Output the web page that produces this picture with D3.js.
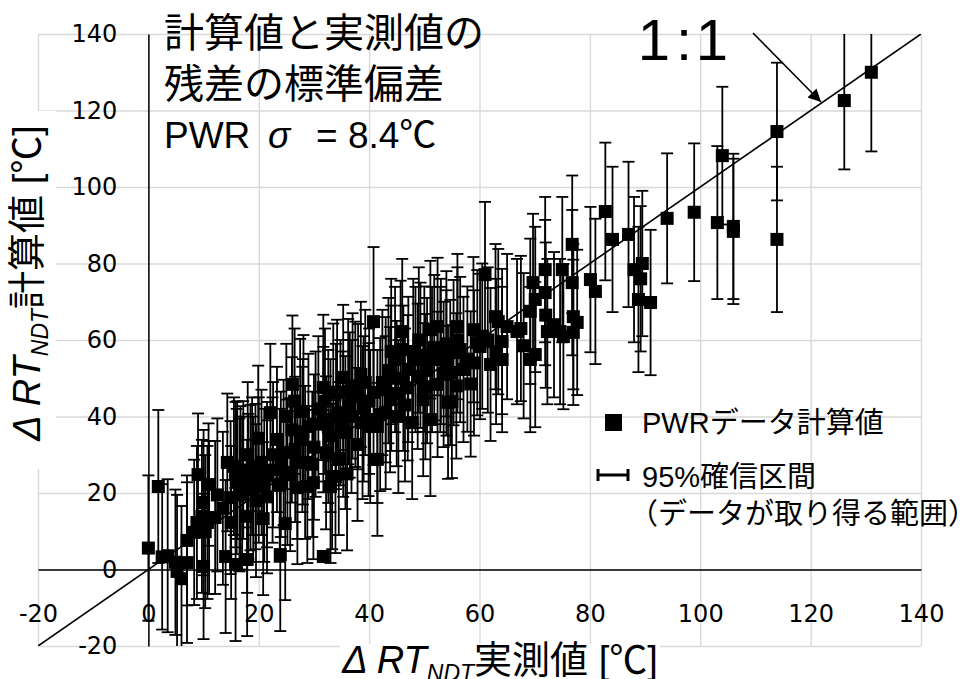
<!DOCTYPE html>
<html>
<head>
<meta charset="utf-8">
<script src="https://cdn.jsdelivr.net/npm/d3@7"></script>
<style>
  body { margin: 0; background: #fff; }
  svg { display: block; }
  .jp { font-family: "Liberation Sans", "Noto Sans CJK JP", sans-serif; fill: #000; }
  .tick text { font-family: "DejaVu Sans", sans-serif; font-size: 24px; fill: #000; }
</style>
</head>
<body>
<div class="chart"></div>
<script>
var width = 961,
    height = 679

// 実測値 (x), 計算値 (y), 95%確信区間の半幅
var measured = [0, 1.8, 2.5, 3.5, 4.9, 5.2, 6, 7, 7, 8.3, 8.8, 9, 10, 9.7, 10.9, 10, 10.7, 11, 12.1, 10.3,
  14, 14.3, 14.9, 15, 15.8, 15.8, 16.1, 16.7, 17.2, 17.9, 17.9, 18.1, 18.8, 19.4, 19.9, 20.8, 21.5, 21.5, 22.1, 22.6,
  23.3, 23.9, 24.5, 24.8, 25.2, 25.7, 26.1, 26.6, 27, 27.5, 27.9, 28.1, 28.4, 28.8, 29, 29.7, 29.9, 30.3,
  31.7, 31.7, 31.7, 32.6, 33, 33.3, 33.5, 33.9, 34.2, 35.3, 35.3, 35.7, 36.2, 37.5, 37.9, 38, 38.8, 39.3, 39.9, 40.2,
  40.8, 40.8, 41.5, 41.5, 42.4, 43, 43.8, 44.7, 45.3, 45.7, 46, 46.5, 47.1, 47.8, 48.4, 49.8, 50.2, 51.1, 51.1, 51.4,
  52.4, 52.4, 52.9, 54.3, 54.7, 55, 55.3, 56, 56.5, 57.1, 58.9, 59.6, 60.1,
  61, 62, 62.9, 63.4, 64.1, 64.1, 66.8, 69.2, 69.2, 69.7, 70.1, 70.1, 71.9, 71.9, 72.3, 74.6, 75, 75.2,
  76.8, 76.8, 77, 77, 77.7, 80.1, 81, 82.8, 84.1, 87, 88, 89.5, 89.2, 88.8, 91,
  94, 98.9, 103.1, 104, 106, 106, 113.9, 113.9, 126.1, 131,
  12.5, 13.5, 16.5, 18, 20.5, 21, 22.5, 23.8, 24, 25, 26, 30, 30.8, 32, 32.2, 34.5, 34.8, 36, 36.8, 37,
  39, 40, 42, 43, 44, 45, 46.2, 47, 48.8, 49.3, 50.5, 51.8, 53.5, 54, 55.8, 57.8, 58.4, 59, 60.5, 61.5,
  63, 65, 67.5, 68, 72, 73.5,
  16, 17, 18.5, 19, 20, 19.5, 15.5, 48, 49, 50, 53, 54, 56, 44, 43.5, 38.5, 36.5, 34, 33, 28, 26.5, 27]
var calculated = [5.6, 21.7, 3.3, 3.6, 1.9, -0.5, -2.4, 1.8, 7.6, 9.7, 12.3, 24.8, 17.5, 13.9, 22.2, 0.8, 12.3, 13.6, 13.6, 9.9,
  3.4, 28, 18.8, 12.3, 1.3, 24.8, 26, 22.7, 26, 2.6, 13.9, 21.7, 27, 24.3, 34.3, 13.3, 19, 24.8, 41, 30,
  34, 3.9, 30.6, 12, 25.4, 24.8, 48.4, 31.4, 21.4, 41.3, 34, 41.3, 28, 21.7, 37.4, 27.5, 22.7, 38,
  3.4, 47.6, 39.2, 37.4, 21.7, 24.3, 46.3, 24.3, 46.3, 50.2, 38, 35.8, 46.5, 45.8, 32.7, 45.2, 38.4, 48.9, 39.2, 37.4,
  64.8, 46.3, 28.8, 37.4, 48.9, 41, 44.4, 54.9, 40, 57.5, 62.2, 43, 52.3, 38.4, 54.9, 44.4, 47.8, 39.2, 62.7, 54.9,
  63.5, 48.4, 54.9, 43.7, 51.5, 43.9, 56.7, 63.5, 57.5, 52.3, 62.7, 59.3, 58.3,
  77.1, 53.6, 66.1, 64.8, 59.6, 54.9, 62.2, 54.9, 67.5, 75, 70.6, 56.2, 78.4, 72.4, 62.2, 62.2, 78.4, 60.9,
  85, 75, 66.1, 62, 64.6, 75.8, 72.7, 93.6, 86.3, 87.6, 78.4, 80, 76, 70.6, 69.8,
  91.8, 93.4, 90.7, 108.2, 89.7, 88.4, 114.5, 86.3, 122.6, 130,
  19.5, 16, 19.5, 30, 28, 22, 26, 22, 27.5, 40, 36.5, 32, 42, 44, 30.5, 29, 41, 25, 40, 48,
  42, 44, 40.5, 47, 50, 46, 50, 47.5, 50.5, 56, 52, 58, 51, 59, 48, 55, 48.5, 54, 61, 60,
  57, 63.5, 63, 58.5, 66.5, 64,
  23, 20, 24, 21, 26, 18, 27, 57, 60, 55, 57, 54, 60, 57, 52, 51, 43, 40, 35, 36, 44, 28]
var halfCI = [19, 20, 19, 20, 19, 20, 19, 21, 17, 19, 20, 16, 19, 20, 16, 19, 20, 20, 20, 20,
  20, 18, 20, 20, 20, 19, 18, 20, 18, 20, 20, 19, 18, 19, 19, 20, 20, 19, 18, 19,
  19, 20, 19, 20, 19, 20, 18, 19, 20, 19, 19, 20, 20, 20, 19, 19, 20, 19,
  1, 19, 19, 20, 20, 19, 18, 20, 19, 19, 19, 20, 19, 19, 20, 19, 20, 19, 20, 20,
  19.5, 19, 20, 20, 19, 20, 19, 19, 20, 18, 19, 20, 19, 20, 19, 20, 19, 20, 18, 19,
  18, 19, 19, 20, 19, 20, 19, 19, 19, 19, 19, 19, 19,
  19, 20, 19, 19, 19, 19, 19, 19, 19, 18, 19, 19, 19, 19, 19, 19, 19, 19,
  18, 19, 19, 19, 19, 19, 19, 18, 19, 19, 19, 19, 19, 19, 19,
  17, 18, 20, 18, 19, 19, 18, 19, 18, 20.7,
  20, 20, 20, 19, 19, 20, 19, 20, 19, 19, 19, 19, 19, 19, 20, 20, 19, 20, 20, 19,
  19, 19, 20, 19, 19, 19, 19, 19, 19, 19, 19, 19, 19, 19, 19, 19, 19, 19, 19, 19,
  19, 19, 19, 19, 19, 19,
  19, 20, 19, 19, 19, 20, 18, 19, 19, 19, 19, 19, 19, 19, 19, 19, 19, 19, 20, 19, 19, 20]

var axisTicks = [-20, 0, 20, 40, 60, 80, 100, 120, 140]
var oneToOne = [-20, 140]

var points = measured.map(function(d, i) {
  return {x: d, y: calculated[i], e: halfCI[i]}
})

var svg = d3.select(".chart")
  .append("svg")
  .attr("width", width)
  .attr("height", height)

var x = d3.scaleLinear().domain([-20, 140]).range([38, 921])
var y = d3.scaleLinear().domain([-20, 140]).range([646, 34])

function plain(d) { return String(d) }

// grid
svg.append("g")
  .attr("transform", "translate(0," + y(-20) + ")")
  .call(d3.axisBottom(x).tickValues(axisTicks).tickSize(-(y(-20) - y(140))).tickFormat(""))
  .call(function(g) {
    g.select(".domain").remove()
    g.selectAll("line").attr("stroke", "#d9d9d9").attr("stroke-width", 1.4)
  })
svg.append("g")
  .attr("transform", "translate(" + x(-20) + ",0)")
  .call(d3.axisLeft(y).tickValues(axisTicks).tickSize(-(x(140) - x(-20))).tickFormat(""))
  .call(function(g) {
    g.select(".domain").remove()
    g.selectAll("line").attr("stroke", "#d9d9d9").attr("stroke-width", 1.4)
  })

// white box behind y title
svg.append("rect")
  .attr("x", 37).attr("y", 111)
  .attr("width", 19).attr("height", 358)
  .attr("fill", "#fff")

// axes through zero
svg.append("g")
  .attr("transform", "translate(" + x(0) + ",0)")
  .call(d3.axisLeft(y).tickValues(axisTicks).tickFormat(plain).tickSize(0).tickSizeOuter(0).tickPadding(31))
  .call(function(g) {
    g.select(".domain").attr("stroke", "#000").attr("stroke-width", 1.5)
  })
svg.append("g")
  .attr("transform", "translate(0," + y(0) + ")")
  .call(d3.axisBottom(x).tickValues(axisTicks).tickFormat(plain).tickSize(0).tickSizeOuter(0).tickPadding(35))
  .call(function(g) {
    g.select(".domain").attr("stroke", "#000").attr("stroke-width", 1.5)
  })

svg.append("clipPath").attr("id", "plotclip")
  .append("rect")
  .attr("x", x(-20)).attr("y", y(140))
  .attr("width", x(140) - x(-20)).attr("height", y(-20) - y(140))

var plot = svg.append("g").attr("clip-path", "url(#plotclip)")

// error bars
var bars = plot.append("g")
  .attr("class", "errbars")
  .attr("stroke", "#000")
  .attr("stroke-width", 1.8)
  .selectAll("g")
  .data(points)
  .enter()
  .append("g")

bars.append("line")
  .attr("x1", function(d) { return x(d.x) })
  .attr("x2", function(d) { return x(d.x) })
  .attr("y1", function(d) { return y(d.y - d.e) })
  .attr("y2", function(d) { return y(d.y + d.e) })
bars.append("line")
  .attr("x1", function(d) { return x(d.x) - 6 })
  .attr("x2", function(d) { return x(d.x) + 6 })
  .attr("y1", function(d) { return y(d.y + d.e) })
  .attr("y2", function(d) { return y(d.y + d.e) })
bars.append("line")
  .attr("x1", function(d) { return x(d.x) - 6 })
  .attr("x2", function(d) { return x(d.x) + 6 })
  .attr("y1", function(d) { return y(d.y - d.e) })
  .attr("y2", function(d) { return y(d.y - d.e) })

// 1:1 line
plot.append("line")
  .attr("x1", x(oneToOne[0])).attr("y1", y(oneToOne[0]))
  .attr("x2", x(oneToOne[1])).attr("y2", y(oneToOne[1]))
  .attr("stroke", "#000").attr("stroke-width", 1.6)

// markers
plot.append("g")
  .selectAll("rect")
  .data(points)
  .enter()
  .append("rect")
  .attr("x", function(d) { return x(d.x) - 6.5 })
  .attr("y", function(d) { return y(d.y) - 6.5 })
  .attr("width", 13)
  .attr("height", 13)
  .attr("fill", "#000")

// title block
svg.append("text").attr("class", "jp")
  .attr("x", 164).attr("y", 47)
  .style("font-size", "40px")
  .text("計算値と実測値の")
svg.append("text").attr("class", "jp")
  .attr("x", 164).attr("y", 98)
  .style("font-size", "40px")
  .text("残差の標準偏差")
svg.append("text").attr("class", "jp")
  .attr("x", 164).attr("y", 148)
  .style("font-size", "37px")
  .text("PWR")
svg.append("text").attr("class", "jp")
  .attr("x", 268).attr("y", 148)
  .style("font-size", "37px").style("font-style", "italic")
  .text("σ")
svg.append("text").attr("class", "jp")
  .attr("x", 316).attr("y", 148)
  .style("font-size", "37px")
  .text("= 8.4℃")

// 1:1 label and arrow
svg.append("text").attr("class", "jp").attr("x", 654).attr("y", 60)
  .attr("text-anchor", "middle").style("font-size", "58px").text("1")
svg.append("text").attr("class", "jp").attr("x", 684).attr("y", 60)
  .attr("text-anchor", "middle").style("font-size", "58px").text(":")
svg.append("text").attr("class", "jp").attr("x", 712).attr("y", 60)
  .attr("text-anchor", "middle").style("font-size", "58px").text("1")

svg.append("defs").append("marker")
  .attr("id", "arrowhead")
  .attr("viewBox", "0 0 10 10")
  .attr("refX", 10).attr("refY", 5)
  .attr("markerWidth", 9).attr("markerHeight", 8)
  .attr("markerUnits", "strokeWidth")
  .attr("orient", "auto")
  .append("path").attr("d", "M0,0L10,5L0,10Z").attr("fill", "#000")
svg.append("line")
  .attr("x1", 753).attr("y1", 33)
  .attr("x2", 821).attr("y2", 102)
  .attr("stroke", "#000").attr("stroke-width", 1.6)
  .attr("marker-end", "url(#arrowhead)")

// legend
svg.append("rect")
  .attr("x", 605).attr("y", 414).attr("width", 17).attr("height", 17)
  .attr("fill", "#000")
svg.append("text").attr("class", "jp")
  .attr("x", 642).attr("y", 433)
  .style("font-size", "29px")
  .text("PWRデータ計算値")
var lg = svg.append("g").attr("stroke", "#000").attr("stroke-width", 3)
lg.append("line").attr("x1", 597).attr("x2", 629).attr("y1", 475).attr("y2", 475)
lg.append("line").attr("x1", 598).attr("x2", 598).attr("y1", 469).attr("y2", 481)
lg.append("line").attr("x1", 628).attr("x2", 628).attr("y1", 469).attr("y2", 481)
svg.append("text").attr("class", "jp")
  .attr("x", 642).attr("y", 487)
  .style("font-size", "29px")
  .text("95%確信区間")
svg.append("text").attr("class", "jp")
  .attr("x", 629).attr("y", 524)
  .style("font-size", "29px")
  .text("（データが取り得る範囲）")

// axis titles
svg.append("rect")
  .attr("x", 340).attr("y", 644).attr("width", 320).attr("height", 35)
  .attr("fill", "#fff")
var xt = svg.append("text").attr("class", "jp")
  .attr("x", 500).attr("y", 673)
  .attr("text-anchor", "middle")
  .style("font-size", "38px")
xt.append("tspan").style("font-style", "italic").text("Δ RT")
xt.append("tspan").style("font-style", "italic").style("font-size", "23px")
  .attr("dy", 8).text("NDT")
xt.append("tspan").attr("dy", -8).text("実測値 [℃]")

var yt = svg.append("text").attr("class", "jp")
  .attr("transform", "translate(40,283) rotate(-90)")
  .attr("text-anchor", "middle")
  .style("font-size", "38px")
yt.append("tspan").style("font-style", "italic").text("Δ RT")
yt.append("tspan").style("font-style", "italic").style("font-size", "23px")
  .attr("dy", 8).text("NDT")
yt.append("tspan").attr("dy", -8).text("計算値 [℃]")
</script>
</body>
</html>
